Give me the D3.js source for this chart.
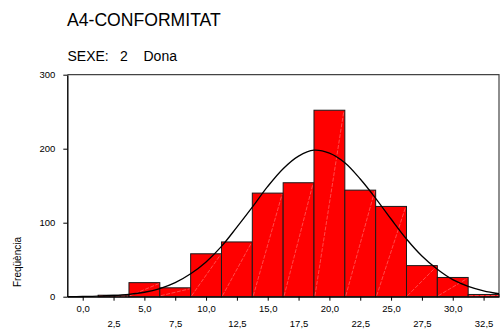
<!DOCTYPE html>
<html><head><meta charset="utf-8">
<script src="https://cdn.jsdelivr.net/npm/d3@7"></script>
<style>
html,body{margin:0;padding:0;background:#fff;}
svg{display:block;font-family:"Liberation Sans",Arial,sans-serif;}
</style></head>
<body>
<script>
// Data
const binCenters = [0, 2.5, 5, 7.5, 10, 12.5, 15, 17.5, 20, 22.5, 25, 27.5, 30, 32.5];
const counts     = [0, 2, 19, 12, 58, 74, 140, 154, 252, 144, 122, 42, 26, 3];
const binWidth = 2.5;
// Normal curve
const curveX = [-1.25,0,1.25,2.5,3.75,5,6.25,7.5,8.75,10,11.25,12.5,13.75,15,16.25,17.5,18.75,20,21.25,22.5,23.75,25,26.25,27.5,28.75,30,31.25,32.5,33.75];
const curveY = [0.1,0.3,0.7,1.6,3.2,6,11,19,31,47,68,94,121,149,173,190,198,194,181,159,133,105,78,55,37,23,14,8,4];
const xTicks = [0,2.5,5,7.5,10,12.5,15,17.5,20,22.5,25,27.5,30,32.5];
const yTicks = [0,100,200,300];
const title = "A4-CONFORMITAT";
const subtitle = ["SEXE:", "2", "Dona"];
const yLabel = "Freqüència";

const W = 500, H = 331;
const svg = d3.select("body").append("svg").attr("width", W).attr("height", H);

const x = d3.scaleLinear().domain([-1.25, 33.75]).range([67.3, 499]);
const y = d3.scaleLinear().domain([0, 300]).range([296.7, 74.7]);

// titles
svg.append("text").attr("x", 67).attr("y", 25.5).attr("font-size", 17.6).attr("fill", "#000").text(title);
const subX = [67.5, 120, 143.5];
subtitle.forEach((s, i) => {
  svg.append("text").attr("x", subX[i]).attr("y", 61).attr("font-size", 14).attr("fill", "#000").text(s);
});

// frame top/right
svg.append("path")
  .attr("d", `M${x.range()[0]},${y(300)}H${x.range()[1]}V${y(0)}`)
  .attr("fill", "none").attr("stroke", "#444").attr("stroke-width", 1.2);

// bars
const bars = svg.append("g");
binCenters.forEach((c, i) => {
  const x0 = x(c - binWidth / 2), x1 = x(c + binWidth / 2);
  const yt = y(counts[i]), yb = y(0);
  if (counts[i] <= 0) return;
  bars.append("rect")
    .attr("x", x0).attr("y", yt).attr("width", x1 - x0).attr("height", yb - yt)
    .attr("fill", "#ff0000").attr("stroke", "#1a1a1a").attr("stroke-width", 1);
  bars.append("line")
    .attr("x1", x0 + 1).attr("y1", yb - 1).attr("x2", x1 - 1).attr("y2", yt + 1)
    .attr("stroke", "#ff7c7c").attr("stroke-width", 0.6).attr("stroke-dasharray", "4,1.5");
});

// normal curve
const pts = curveX.map((v, i) => [x(v), y(curveY[i])]);
svg.append("path")
  .attr("d", d3.line().curve(d3.curveCatmullRom)(pts))
  .attr("fill", "none").attr("stroke", "#000").attr("stroke-width", 1.3);

// axes
const fmt = v => d3.format(".1f")(v).replace(".", ",");
const gx = svg.append("g").attr("transform", `translate(0,${y(0)})`)
  .call(d3.axisBottom(x).tickValues(xTicks).tickFormat(fmt).tickSize(4).tickSizeOuter(0));
gx.select(".domain").attr("stroke", "#000").attr("stroke-width", 1.3);
gx.selectAll(".tick line").attr("stroke", "#000");
gx.selectAll(".tick text")
  .attr("font-size", 9.5).attr("font-family", "Liberation Sans, Arial, sans-serif").attr("fill", "#000")
  .attr("dy", null)
  .attr("y", (d, i) => i % 2 === 0 ? 15.5 : 30.5);

const gy = svg.append("g").attr("transform", `translate(${x.range()[0]},0)`)
  .call(d3.axisLeft(y).tickValues(yTicks).tickFormat(d3.format("d")).tickSize(4).tickPadding(8).tickSizeOuter(0));
gy.select(".domain").attr("stroke", "#000").attr("stroke-width", 1.4);
gy.selectAll(".tick line").attr("stroke", "#000");
gy.selectAll(".tick text")
  .attr("font-size", 9.5).attr("font-family", "Liberation Sans, Arial, sans-serif").attr("fill", "#000");

// y label
svg.append("text")
  .attr("transform", `translate(21,${262}) rotate(-90)`)
  .attr("text-anchor", "middle").attr("font-size", 10).attr("fill", "#000").text(yLabel);
</script>
</body></html>
